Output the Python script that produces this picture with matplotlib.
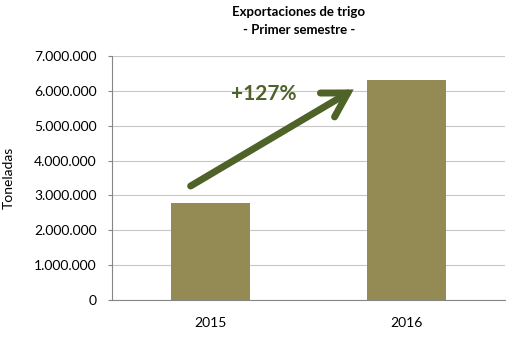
import matplotlib.pyplot as plt
from matplotlib.ticker import FuncFormatter

years = ['2015', '2016']
toneladas = [2780000, 6310000]
yticks = [0, 1000000, 2000000, 3000000, 4000000, 5000000, 6000000, 7000000]

plt.rcParams['font.family'] = ['Lato', 'DejaVu Sans']

fig = plt.figure(figsize=(5.11, 3.38), dpi=100)
ax = fig.add_axes([112 / 511, 38 / 338, 393 / 511, 244 / 338])

ax.bar(range(len(years)), toneladas, width=0.4, color='#948a54', zorder=3)
ax.set_xlim(-0.5, 1.5)
ax.set_ylim(0, 7000000)
ax.set_yticks(yticks)
ax.yaxis.set_major_formatter(FuncFormatter(lambda v, p: f'{int(v):,}'.replace(',', '.')))
ax.set_xticks(range(len(years)))
ax.set_xticklabels(years)
ax.grid(axis='y', color='#c8c8c8', linewidth=0.8, zorder=0)

for s in ['top', 'right']:
    ax.spines[s].set_visible(False)
ax.spines['left'].set_color('#868686')
ax.spines['bottom'].set_color('#868686')
ax.tick_params(axis='y', length=3, color='#868686', labelsize=10, pad=8)
ax.tick_params(axis='x', length=0, labelsize=10, pad=12)

ax.set_ylabel('Toneladas', fontsize=10, labelpad=14)

fig.text(0.585, 0.965, 'Exportaciones de trigo', ha='center', va='center', fontsize=9.5, fontweight='bold')
fig.text(0.585, 0.91, '- Primer semestre -', ha='center', va='center', fontsize=9.5, fontweight='bold')

# flecha de crecimiento
ax.annotate('', xy=(0.73, 6040000), xytext=(-0.1, 3270000),
            arrowprops=dict(arrowstyle='->,head_length=1.7,head_width=1.0',
                            color='#4f6228', lw=5, shrinkA=0, shrinkB=0,
                            joinstyle='miter', capstyle='round'), zorder=4)
ax.text(0.27, 5.9e6, '+127%', ha='center', va='center', fontsize=15,
        fontweight='bold', color='#4f6228', zorder=5)

fig.savefig('out.png', dpi=100)
